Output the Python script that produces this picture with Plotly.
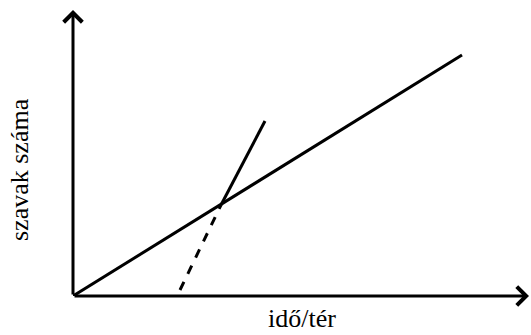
import plotly.graph_objects as go

# units are arbitrary (reading of the sketch), origin at the axes corner
x_main = [0, 389]
y_main = [0, 241]

x_steep_dash = [107, 148]
y_steep_dash = [6, 91]

x_steep = [148, 192]
y_steep = [91, 175]

x_max = 456
y_max = 286

x_label = "idő/tér"
y_label = "szavak száma"

fig = go.Figure()

# long straight line from the origin
fig.add_trace(go.Scatter(x=x_main, y=y_main, mode="lines",
                         line=dict(color="black", width=3), cliponaxis=False))
# steep line, dashed below the crossing point
fig.add_trace(go.Scatter(x=x_steep_dash, y=y_steep_dash, mode="lines",
                         line=dict(color="black", width=3, dash="dash"), cliponaxis=False))
fig.add_trace(go.Scatter(x=x_steep, y=y_steep, mode="lines",
                         line=dict(color="black", width=3), cliponaxis=False))

# axes drawn as arrows
arrow = dict(showarrow=True, arrowhead=4, arrowwidth=3, arrowsize=1.2,
             arrowcolor="black", axref="x", ayref="y", text="")
fig.add_annotation(x=x_max, y=0, ax=0, ay=0, **arrow)
fig.add_annotation(x=0, y=y_max, ax=0, ay=0, **arrow)

# axis titles, placed in paper coordinates so they are not hidden
font = dict(family="Liberation Serif", size=26, color="black")
fig.add_annotation(x=229 / x_max, y=-39 / y_max, xref="paper", yref="paper",
                   text=x_label, showarrow=False,
                   font=font, xanchor="center", yanchor="bottom")
fig.add_annotation(x=-53 / x_max, y=126 / y_max, xref="paper", yref="paper",
                   text=y_label, showarrow=False, textangle=-90,
                   font=font, xanchor="center", yanchor="middle")

fig.update_xaxes(range=[0, x_max], visible=False)
fig.update_yaxes(range=[0, y_max], visible=False)

fig.update_layout(
    width=531, height=335,
    margin=dict(l=73, r=2, t=10, b=39),
    plot_bgcolor="white", paper_bgcolor="white",
    showlegend=False,
)

fig.write_html("out.html", config={"displayModeBar": False},
               post_script="document.body.style.margin='0';")
